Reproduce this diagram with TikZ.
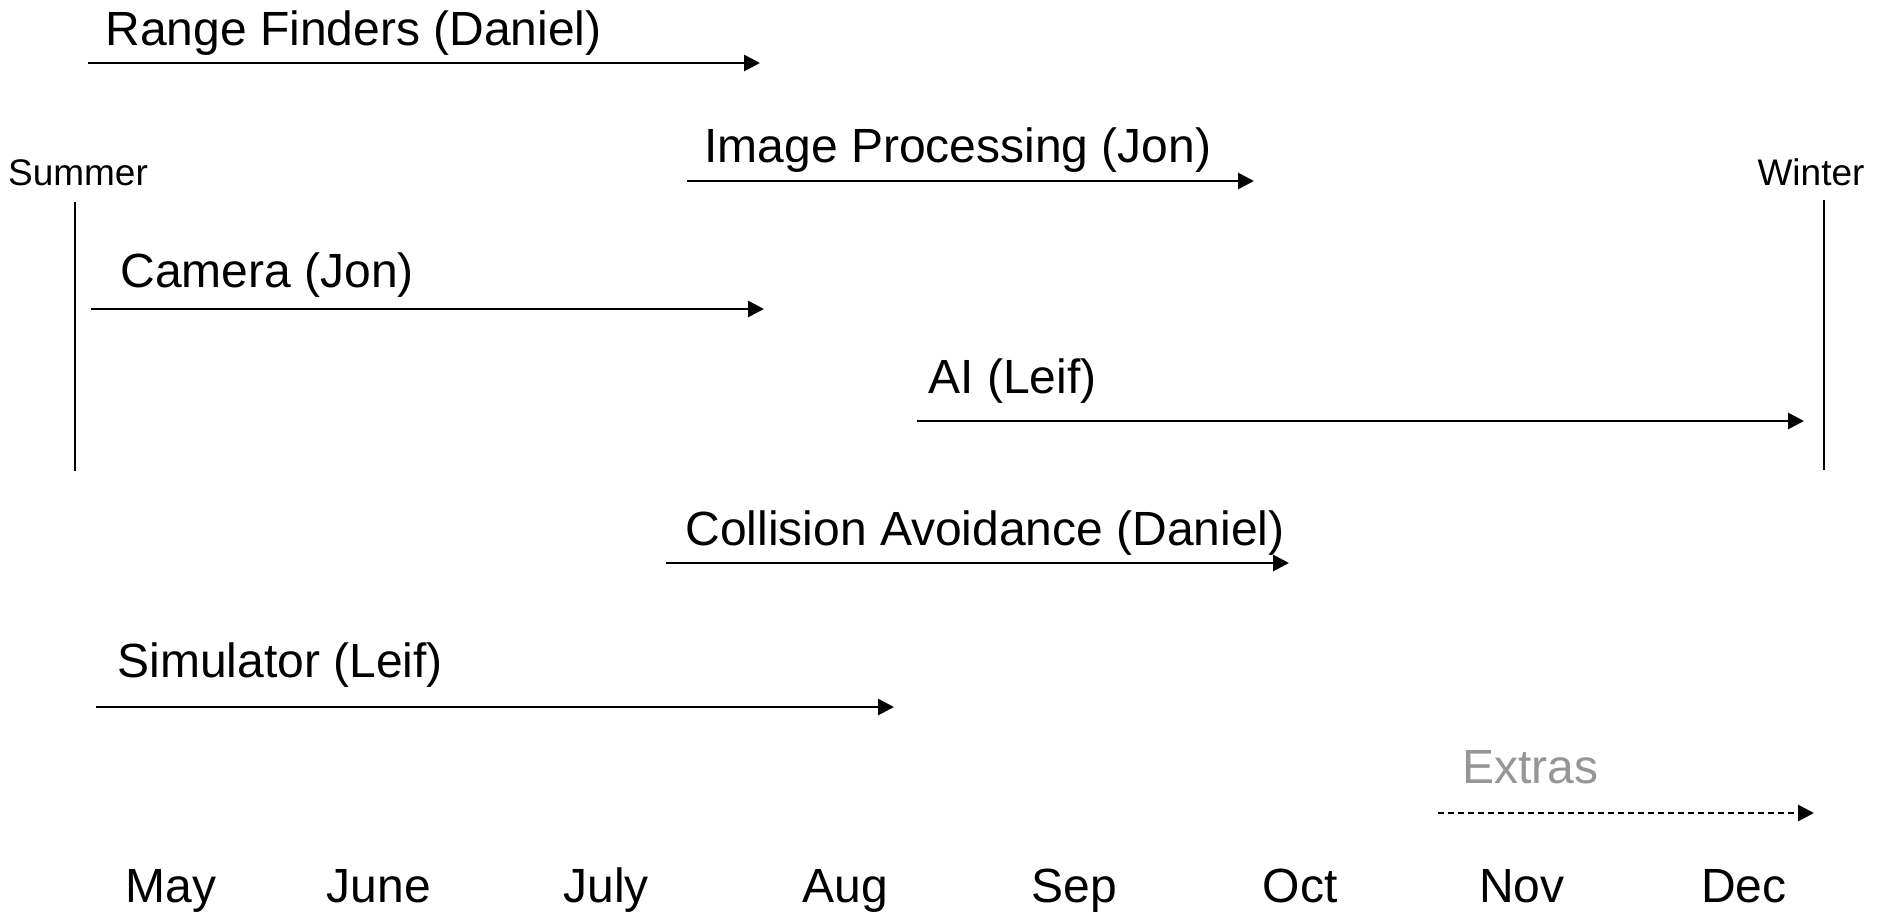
\documentclass[tikz,border=0pt]{standalone}
\usepackage{fontspec}
\setmainfont{Liberation Sans}
\usetikzlibrary{arrows.meta}
\definecolor{extragray}{RGB}{150,150,150}
\tikzset{
  task/.style={anchor=base west, inner sep=0pt, font=\fontsize{24}{28}\selectfont},
  month/.style={anchor=base, inner sep=0pt, font=\fontsize{24}{28}\selectfont},
  season/.style={anchor=base, inner sep=0pt, font=\fontsize{18.5}{22}\selectfont},
  span/.style={line width=1.4pt, -{Triangle[length=8pt,width=8pt]}},
  extraspan/.style={span, dash pattern=on 3pt off 2pt},
  bound/.style={line width=1pt}
}
\begin{document}
\begin{tikzpicture}[x=0.5pt,y=-0.5pt]
\useasboundingbox (0,0) rectangle (1880,911);

% season boundaries
\node[season] (summer) at (78,185) {Summer};
\node[season] (winter) at (1811,185) {Winter};
\coordinate (sumtop) at (75,202);
\coordinate (sumbot) at (75,471);
\coordinate (wintop) at (1824,200);
\coordinate (winbot) at (1824,470);
\draw[bound] (sumtop) -- (sumbot);
\draw[bound] (wintop) -- (winbot);

% tasks
\node[task] (range) at (105,45) {Range Finders (Daniel)};
\coordinate (rangeA) at (88,63);
\coordinate (rangeB) at (760,63);
\draw[span] (rangeA) -- (rangeB);

\node[task] (image) at (704,162) {Image Processing (Jon)};
\coordinate (imageA) at (687,181);
\coordinate (imageB) at (1254,181);
\draw[span] (imageA) -- (imageB);

\node[task] (camera) at (120,287) {Camera (Jon)};
\coordinate (cameraA) at (91,309);
\coordinate (cameraB) at (764,309);
\draw[span] (cameraA) -- (cameraB);

\node[task] (ai) at (928,393) {AI (Leif)};
\coordinate (aiA) at (917,421);
\coordinate (aiB) at (1804,421);
\draw[span] (aiA) -- (aiB);

\node[task] (collision) at (685,545) {Collision Avoidance (Daniel)};
\coordinate (collA) at (666,563);
\coordinate (collB) at (1289,563);
\draw[span] (collA) -- (collB);

\node[task] (sim) at (117,677) {Simulator (Leif)};
\coordinate (simA) at (96,707);
\coordinate (simB) at (894,707);
\draw[span] (simA) -- (simB);

\node[task, text=extragray] (extras) at (1462,783) {Extras};
\coordinate (extA) at (1438,813);
\coordinate (extB) at (1814,813);
\draw[extraspan] (extA) -- (extB);

% months
\node[month] (may) at (171,902) {May};
\node[month] (jun) at (379,902) {June};
\node[month] (jul) at (606,902) {July};
\node[month] (aug) at (845,902) {Aug};
\node[month] (sep) at (1074,902) {Sep};
\node[month] (oct) at (1300,902) {Oct};
\node[month] (nov) at (1522,902) {Nov};
\node[month] (dec) at (1744,902) {Dec};
\end{tikzpicture}
\end{document}
